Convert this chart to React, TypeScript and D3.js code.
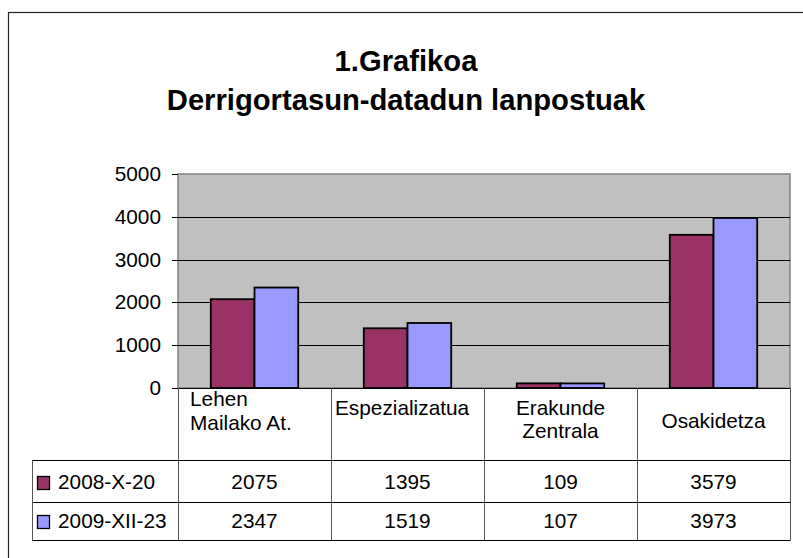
import React, { useEffect, useRef } from 'react';
import * as d3 from 'd3';

const categories = ['Lehen Mailako At.', 'Espezializatua', 'Erakunde Zentrala', 'Osakidetza'];
const headerLines = [['Lehen', 'Mailako At.'], ['Espezializatua'], ['Erakunde', 'Zentrala'], ['Osakidetza']];
const seriesNames = ['2008-X-20', '2009-XII-23'];
const series2008 = [2075, 1395, 109, 3579];
const series2009 = [2347, 1519, 107, 3973];
const yTicks = [0, 1000, 2000, 3000, 4000, 5000];
const colors = ['#993366', '#9999FF'];

const App = () => {
  const svgRef = useRef<SVGSVGElement>(null);

  useEffect(() => {
    const svg = d3.select(svgRef.current);
    svg.selectAll('*').remove();

    const width = 803;
    const height = 558;
    const plot = { left: 178, right: 790, top: 174, bottom: 388 };
    const font = 'Liberation Sans, Arial, sans-serif';
    const fs = 20.8;

    svg.attr('width', width).attr('height', height);

    // outer chart frame
    svg.append('rect')
      .attr('x', 8.5).attr('y', 12.5)
      .attr('width', 800).attr('height', 560)
      .attr('fill', '#fff').attr('stroke', '#222').attr('stroke-width', 1.2);

    // title
    const title = svg.append('text')
      .attr('text-anchor', 'middle')
      .attr('font-family', font)
      .attr('font-weight', 'bold')
      .attr('font-size', 29.2);
    title.append('tspan').attr('x', 406).attr('y', 71).text('1.Grafikoa');
    title.append('tspan').attr('x', 406).attr('y', 110).text('Derrigortasun-datadun lanpostuak');

    const x = d3.scaleBand<string>()
      .domain(categories)
      .range([plot.left, plot.right]);
    const y = d3.scaleLinear().domain([0, 5000]).range([plot.bottom, plot.top]);

    const barW = x.bandwidth() / 3.5;
    const data = [series2008, series2009];

    // plot background
    svg.append('rect')
      .attr('x', plot.left).attr('y', plot.top)
      .attr('width', plot.right - plot.left).attr('height', plot.bottom - plot.top)
      .attr('fill', '#C0C0C0').attr('stroke', '#808080').attr('stroke-width', 1.5);

    // gridlines
    svg.append('g').selectAll('line')
      .data(yTicks.filter(t => t > 0 && t < 5000))
      .enter().append('line')
      .attr('x1', plot.left).attr('x2', plot.right)
      .attr('y1', d => Math.round(y(d)) + 0.5).attr('y2', d => Math.round(y(d)) + 0.5)
      .attr('stroke', '#000').attr('stroke-width', 1);

    // bars
    data.forEach((vals, si) => {
      svg.append('g').selectAll('rect')
        .data(vals)
        .enter().append('rect')
        .attr('x', (d, i) => (x(categories[i]) as number) + barW * 0.75 + si * barW)
        .attr('y', d => y(d))
        .attr('width', barW)
        .attr('height', d => y(0) - y(d))
        .attr('fill', colors[si])
        .attr('stroke', '#000')
        .attr('stroke-width', 1.8);
    });

    // y axis ticks and labels
    const yAxis = svg.append('g');
    yAxis.selectAll('line')
      .data(yTicks)
      .enter().append('line')
      .attr('x1', plot.left - 6).attr('x2', plot.left)
      .attr('y1', d => Math.round(y(d)) + 0.5).attr('y2', d => Math.round(y(d)) + 0.5)
      .attr('stroke', '#000');
    yAxis.selectAll('text')
      .data(yTicks)
      .enter().append('text')
      .attr('x', 161)
      .attr('y', d => y(d) + 7)
      .attr('text-anchor', 'end')
      .attr('font-family', font)
      .attr('font-size', fs)
      .text(d => d);

    // zero line
    svg.append('line')
      .attr('x1', plot.left - 6).attr('x2', plot.right)
      .attr('y1', plot.bottom + 0.5).attr('y2', plot.bottom + 0.5)
      .attr('stroke', '#000').attr('stroke-width', 1.2);

    // data table
    const tableLeft = 32;
    const headerBottom = 460;
    const row1Bottom = 502;
    const row2Bottom = 540;

    const edges = categories.map(c => x(c) as number).concat([plot.right]);
    svg.append('g').selectAll('line')
      .data(edges)
      .enter().append('line')
      .attr('x1', d => Math.round(d) + 0.5).attr('x2', d => Math.round(d) + 0.5)
      .attr('y1', plot.bottom).attr('y2', row2Bottom)
      .attr('stroke', '#555').attr('stroke-width', 1);

    [headerBottom, row1Bottom, row2Bottom].forEach(yy => {
      svg.append('line')
        .attr('x1', tableLeft).attr('x2', plot.right + 0.5)
        .attr('y1', yy + 0.5).attr('y2', yy + 0.5)
        .attr('stroke', '#000').attr('stroke-width', 1);
    });
    svg.append('line')
      .attr('x1', tableLeft + 0.5).attr('x2', tableLeft + 0.5)
      .attr('y1', headerBottom).attr('y2', row2Bottom + 1)
      .attr('stroke', '#555');

    // header labels
    const headerPos = [
      { anchor: 'start', dx: 12, ys: [406, 430] },
      { anchor: 'start', dx: 4, ys: [415] },
      { anchor: 'middle', dx: 0, ys: [415, 438] },
      { anchor: 'middle', dx: 0, ys: [428] },
    ];
    headerLines.forEach((lines, i) => {
      const c = categories[i];
      const p = headerPos[i];
      const xx = p.anchor === 'middle' ? (x(c) as number) + x.bandwidth() / 2 : (x(c) as number) + p.dx;
      const t = svg.append('text')
        .attr('text-anchor', p.anchor)
        .attr('font-family', font)
        .attr('font-size', fs);
      lines.forEach((l, li) => {
        t.append('tspan').attr('x', xx).attr('y', p.ys[li]).text(l);
      });
    });

    // series rows
    const rowBaselines = [489, 528];
    data.forEach((vals, si) => {
      svg.append('rect')
        .attr('x', 37.5).attr('y', rowBaselines[si] - 12.5)
        .attr('width', 12).attr('height', 13)
        .attr('fill', colors[si]).attr('stroke', '#000').attr('stroke-width', 1.3);
      svg.append('text')
        .attr('x', 58).attr('y', rowBaselines[si])
        .attr('font-family', font).attr('font-size', fs)
        .text(seriesNames[si]);
      svg.append('g').selectAll('text')
        .data(vals)
        .enter().append('text')
        .attr('x', (d, i) => (x(categories[i]) as number) + x.bandwidth() / 2)
        .attr('y', rowBaselines[si])
        .attr('text-anchor', 'middle')
        .attr('font-family', font).attr('font-size', fs)
        .text(d => d);
    });
  }, []);

  return (
    <div style={{ position: 'absolute', left: 0, top: 0 }}>
      <svg ref={svgRef} style={{ display: 'block' }}></svg>
    </div>
  );
};

export default App;
